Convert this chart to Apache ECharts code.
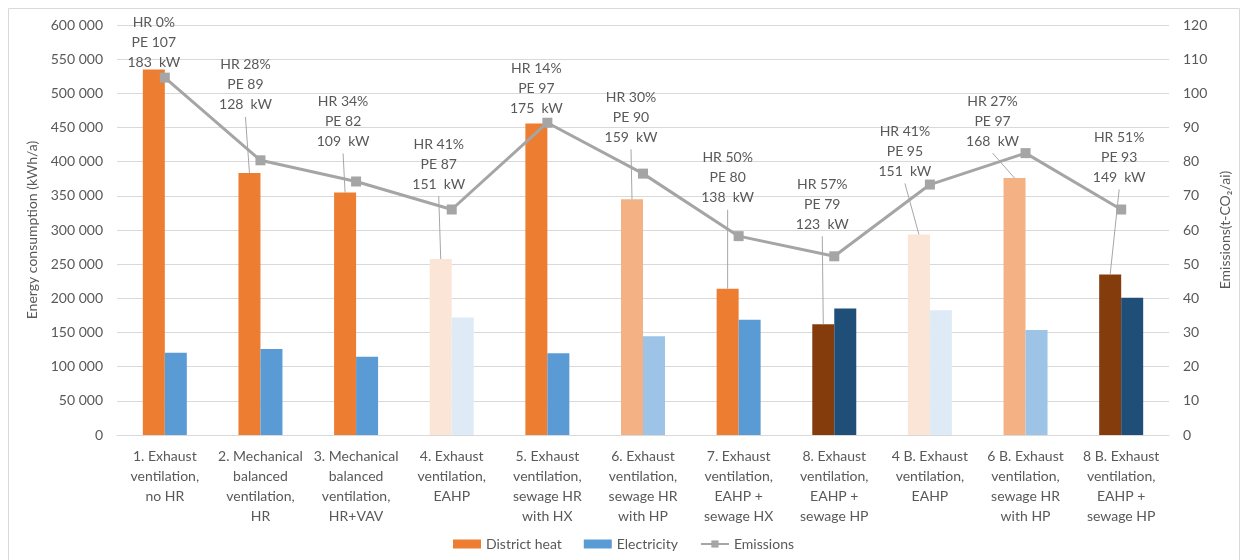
<!DOCTYPE html>
<html>
<head>
<meta charset="utf-8">
<title>Energy consumption and emissions</title>
<script type="text/javascript" src="https://cdn.jsdelivr.net/npm/echarts@6/dist/echarts.min.js"></script>
<style>
  html, body { margin: 0; padding: 0; background: #fff; }
</style>
</head>
<body>
<div id="main" style="width: 1247px; height: 560px;"></div>
<script type="text/javascript">
// categories (x axis)
var categories = [
  '1. Exhaust\nventilation,\nno HR',
  '2. Mechanical\nbalanced\nventilation,\nHR',
  '3. Mechanical\nbalanced\nventilation,\nHR+VAV',
  '4. Exhaust\nventilation,\nEAHP',
  '5. Exhaust\nventilation,\nsewage HR\nwith HX',
  '6. Exhaust\nventilation,\nsewage HR\nwith HP',
  '7. Exhaust\nventilation,\nEAHP +\nsewage HX',
  '8. Exhaust\nventilation,\nEAHP +\nsewage HP',
  '4 B. Exhaust\nventilation,\nEAHP',
  '6 B. Exhaust\nventilation,\nsewage HR\nwith HP',
  '8 B. Exhaust\nventilation,\nEAHP +\nsewage HP'
];

// kWh/a
var districtHeat = [535000, 383500, 355000, 257500, 456000, 345000, 214000, 162000, 293500, 376000, 235000];
var electricity  = [120500, 126000, 114500, 172000, 119500, 144500, 168500, 185000, 182500, 153500, 201000];
// t-CO2/a
var emissions    = [104.6, 80.4, 74.2, 66.0, 91.4, 76.5, 58.2, 52.3, 73.3, 82.5, 66.0];

// label texts
var heatRecovery = [0, 28, 34, 41, 14, 30, 50, 57, 41, 27, 51];
var primaryEnergy = [107, 89, 82, 87, 97, 90, 80, 79, 95, 97, 93];
var peakPower = [183, 128, 109, 151, 175, 159, 138, 123, 151, 168, 149];

// tick labels
var leftTicks = [0, 50000, 100000, 150000, 200000, 250000, 300000, 350000, 400000, 450000, 500000, 550000, 600000];
var rightTicks = [0, 10, 20, 30, 40, 50, 60, 70, 80, 90, 100, 110, 120];

// bar colours per scenario (1,2,3,5,7 normal, 4 light, 6 mid, 8 dark)
var heatColors = ['#ED7D31', '#ED7D31', '#ED7D31', '#FBE5D6', '#ED7D31', '#F4B183', '#ED7D31', '#843C0C', '#FBE5D6', '#F4B183', '#843C0C'];
var elecColors = ['#5B9BD5', '#5B9BD5', '#5B9BD5', '#DEEBF7', '#5B9BD5', '#9DC3E6', '#5B9BD5', '#1F4E79', '#DEEBF7', '#9DC3E6', '#1F4E79'];

// where each data label sits, relative to the top of its bar (px)
var labelShift = [[0, -27], [-4, -88], [-2, -71], [-2, -95], [0, -35], [-1, -82],
                  [0, -111], [-1, -120], [-14, -83], [-22, -57], [9, -117]];

var FONT = 'Lato, "Open Sans", sans-serif';
var GREY = '#595959';
var LABEL_HALF = 30;       // half height of the 3-line data label
var CAT_GAP = 0.54;        // barCategoryGap

function fmtSpace(v) {
  return String(v).replace(/\B(?=(\d{3})+(?!\d))/g, ' ');
}

var myChart = echarts.init(document.getElementById('main'));

var option = {
  textStyle: { fontFamily: FONT },
  animation: false,
  graphic: [{
    type: 'rect',
    shape: { x: 8.5, y: 8.5, width: 1231, height: 600 },
    style: { fill: 'none', stroke: '#D9D9D9', lineWidth: 1 },
    silent: true
  }],
  legend: {
    bottom: 4,
    left: 'center',
    itemWidth: 28,
    itemHeight: 9,
    itemGap: 22,
    textStyle: { fontSize: 14, color: GREY, fontFamily: FONT },
    data: [
      { name: 'District heat', icon: 'rect', itemStyle: { color: '#ED7D31' } },
      { name: 'Electricity', icon: 'rect', itemStyle: { color: '#5B9BD5' } },
      { name: 'Emissions' }
    ]
  },
  grid: { left: 117, right: 78, top: 25, bottom: 125 },
  xAxis: {
    type: 'category',
    data: categories,
    axisLine: { lineStyle: { color: '#D9D9D9' } },
    axisTick: { show: false },
    axisLabel: {
      interval: 0,
      fontSize: 14,
      lineHeight: 20,
      color: GREY,
      margin: 11,
      fontFamily: FONT
    }
  },
  yAxis: [{
    type: 'value',
    min: leftTicks[0],
    max: leftTicks[leftTicks.length - 1],
    interval: leftTicks[1] - leftTicks[0],
    name: 'Energy consumption (kWh/a)',
    nameLocation: 'middle',
    nameRotate: 90,
    nameGap: 76,
    nameTextStyle: { fontSize: 14, color: GREY, fontFamily: FONT },
    axisLine: { show: false },
    axisTick: { show: false },
    axisLabel: { fontSize: 14, color: GREY, margin: 14, formatter: fmtSpace },
    splitLine: { lineStyle: { color: '#D9D9D9' } }
  }, {
    type: 'value',
    min: rightTicks[0],
    max: rightTicks[rightTicks.length - 1],
    interval: rightTicks[1] - rightTicks[0],
    name: 'Emissions(t-CO\u2082/ai)',
    nameLocation: 'middle',
    nameRotate: 90,
    nameGap: 48,
    nameTextStyle: { fontSize: 14, color: GREY, fontFamily: FONT },
    axisLine: { show: false },
    axisTick: { show: false },
    axisLabel: { fontSize: 14, color: GREY, margin: 14 },
    splitLine: { show: false }
  }],
  series: [{
    name: 'District heat',
    type: 'bar',
    barGap: '0%',
    barCategoryGap: (CAT_GAP * 100) + '%',
    itemStyle: { color: '#ED7D31' },
    data: districtHeat.map(function (v, i) {
      return { value: v, itemStyle: { color: heatColors[i] } };
    }),
    label: {
      show: true,
      position: 'top',
      fontSize: 14,
      lineHeight: 20,
      color: GREY,
      fontFamily: FONT,
      formatter: function (p) {
        var i = p.dataIndex;
        return 'HR ' + heatRecovery[i] + '%\nPE ' + primaryEnergy[i] + '\n' + peakPower[i] + '  kW';
      }
    },
    labelLayout: function (p) {
      var s = labelShift[p.dataIndex];
      return {
        x: p.rect.x + p.rect.width / 2 + s[0],
        y: p.rect.y + s[1],
        align: 'center',
        verticalAlign: 'middle'
      };
    },
    z: 2
  }, {
    name: 'Electricity',
    type: 'bar',
    itemStyle: { color: '#5B9BD5' },
    data: electricity.map(function (v, i) {
      return { value: v, itemStyle: { color: elecColors[i] } };
    }),
    z: 2
  }, {
    // leader lines from each data label down to the top of its district heat bar
    name: 'leaders',
    type: 'custom',
    silent: true,
    z: 3,
    data: districtHeat.map(function (v, i) { return [i, v]; }),
    encode: { x: 0, y: 1 },
    renderItem: function (params, api) {
      var i = api.value(0);
      var top = api.coord([i, api.value(1)]);
      var catW = api.size([1, 0])[0];
      var barW = catW * (1 - CAT_GAP) / 2;
      var cx = top[0] - barW / 2;
      var s = labelShift[i];
      var sx = cx + s[0];
      var sy = top[1] + s[1] + LABEL_HALF + 2;
      if (top[1] - sy < 10) return null;
      return {
        type: 'line',
        shape: { x1: sx, y1: sy, x2: cx, y2: top[1] },
        style: { stroke: '#A6A6A6', lineWidth: 1 }
      };
    }
  }, {
    name: 'Emissions',
    type: 'line',
    yAxisIndex: 1,
    data: emissions,
    symbol: 'rect',
    symbolSize: 10,
    showAllSymbol: true,
    itemStyle: { color: '#A5A5A5' },
    lineStyle: { color: '#A5A5A5', width: 3 },
    z: 5
  }]
};

myChart.setOption(option);
</script>
</body>
</html>
